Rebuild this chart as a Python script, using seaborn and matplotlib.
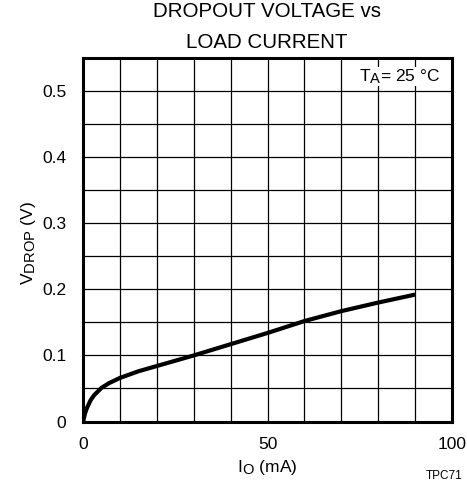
import matplotlib
matplotlib.use("Agg")
import matplotlib.pyplot as plt
import matplotlib._mathtext as _mt
import seaborn as sns
import pandas as pd

# Data
current_ma = [0, 0.5, 1, 2, 3, 5, 7, 10, 15, 20, 30, 40, 50, 60, 70, 80, 90]
v_drop = [0, 0.012, 0.02, 0.032, 0.040, 0.051, 0.058, 0.066, 0.076, 0.084, 0.100,
          0.117, 0.134, 0.152, 0.167, 0.180, 0.192]
x_ticks = [0, 50, 100]
y_ticks = [0, 0.1, 0.2, 0.3, 0.4, 0.5]
y_tick_labels = ["0", "0.1", "0.2", "0.3", "0.4", "0.5"]

# larger subscripts, like the reference
_mt.SHRINK_FACTOR = 0.85

sns.set_theme(style="white")
plt.rcParams['font.family'] = ['Liberation Sans', 'DejaVu Sans']
plt.rcParams['mathtext.fontset'] = 'custom'
plt.rcParams['mathtext.rm'] = 'Liberation Sans'
plt.rcParams['mathtext.it'] = 'Liberation Sans'

df = pd.DataFrame({"I": current_ma, "V": v_drop})

fig = plt.figure(figsize=(4.67, 4.91), dpi=100)
ax = fig.add_axes([0.178, 0.1415, 0.79, 0.7405])

sns.lineplot(data=df, x="I", y="V", ax=ax, color="black", linewidth=3.0,
             solid_capstyle="butt", zorder=3)

ax.set_xlim(0, 100)
ax.set_ylim(0, 0.55)
ax.set_xticks([i * 10 for i in range(11)], minor=True)
ax.set_yticks([i * 0.05 for i in range(12)], minor=True)
ax.set_xticks(x_ticks)
ax.set_xticklabels([str(t) for t in x_ticks])
ax.set_yticks(y_ticks)
ax.set_yticklabels(y_tick_labels)
ax.grid(True, which="both", color="black", linewidth=0.9)
ax.tick_params(axis="both", which="both", length=0, labelsize=12.5, colors="black")
ax.tick_params(axis="y", pad=12)
ax.tick_params(axis="x", pad=11)
for s in ax.spines.values():
    s.set_color("black")
    s.set_linewidth(2.2)
    s.set_zorder(4)

ax.set_xlabel(r"I$_\mathregular{O}$ (mA)", fontsize=12.5, color="black")
ax.set_ylabel(r"V$_\mathregular{DROP}$ (V)", fontsize=12.5, color="black")
ax.xaxis.set_label_coords(0.5, -0.1)
ax.yaxis.set_label_coords(-0.122, 0.49)

fig.text(0.571, 0.996, "DROPOUT VOLTAGE vs\nLOAD CURRENT", ha="center", va="top",
         fontsize=14.8, color="black", linespacing=1.8)

ax.text(0.967, 0.975, r"T$_\mathregular{A}$= 25 °C", transform=ax.transAxes,
        ha="right", va="top", fontsize=12.5, color="black",
        bbox=dict(facecolor="white", edgecolor="none", pad=0.3), zorder=5)

fig.text(0.951, 0.03, "TPC71", ha="center", va="center", fontsize=8.5, color="black")

fig.savefig("out.png", dpi=100)
